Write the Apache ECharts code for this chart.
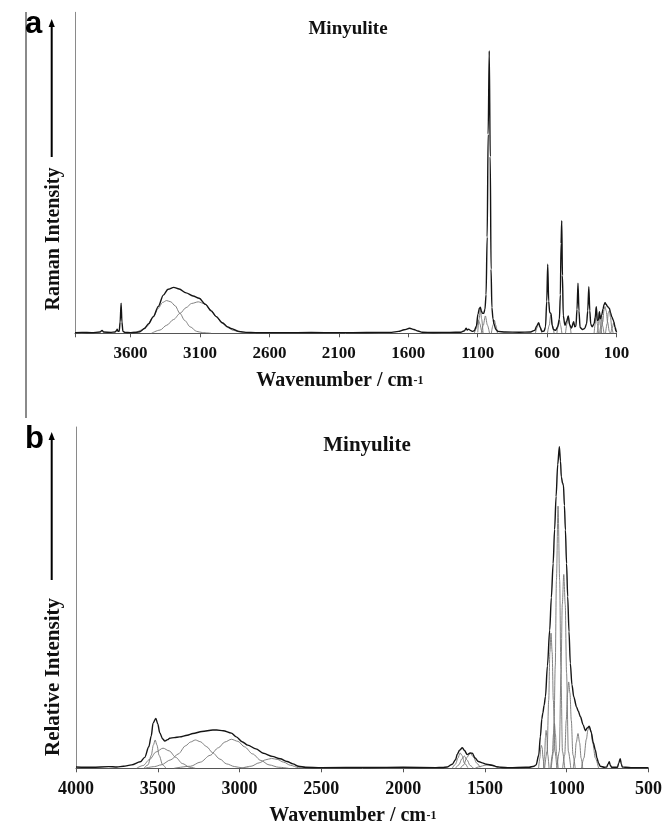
<!DOCTYPE html>
<html><head><meta charset="utf-8">
<script src="https://cdn.jsdelivr.net/npm/echarts@6/dist/echarts.min.js"></script>
<style>html,body{margin:0;padding:0;background:#fff}#c{width:665px;height:826px}</style>
</head><body><div id="c"></div>
<script>
// ---------- tick labels ----------
const ramanTicks = [3600, 3100, 2600, 2100, 1600, 1100, 600, 100];
const irTicks = [4000, 3500, 3000, 2500, 2000, 1500, 1000, 500];

// ---------- (a) Raman spectrum: envelope [wavenumber, intensity] ----------
const ramanEnvelope = [
 [4000,0.2],[3950,0.3],[3880,0.2],[3820,0.4],[3805,0.9],[3795,0.4],[3740,0.3],[3712,0.4],[3702,0.8],
 [3696,1.3],[3690,0.6],[3682,0.6],[3675,3.5],[3668,9.4],[3662,3.5],[3655,0.6],[3640,0.3],[3600,0.2],
 [3560,0.3],[3532,0.5],[3500,1.5],[3470,3.0],[3436,5.2],[3400,8.4],[3364,11.9],[3330,13.7],[3289,14.3],
 [3250,13.8],[3200,12.6],[3150,11.6],[3106,10.9],[3060,9.0],[3020,7.0],[2983,5.2],[2940,3.3],[2900,2.0],
 [2877,1.5],[2820,0.6],[2769,0.3],[2700,0.2],[2500,0.2],[2300,0.25],[2100,0.2],[1900,0.25],[1720,0.3],
 [1670,0.6],[1630,1.1],[1590,1.56],[1560,1.2],[1530,0.7],[1500,0.35],[1420,0.25],[1300,0.3],[1220,0.35],
 [1195,0.8],[1184,1.6],[1175,1.0],[1165,1.3],[1156,1.0],[1140,0.6],[1125,0.8],[1110,2.2],[1098,6.0],
 [1088,7.8],[1081,8.1],[1073,6.8],[1065,6.2],[1057,6.2],[1048,7.5],[1040,12],[1032,30],[1025,62],
 [1017,88],[1010,55],[1004,20],[998,8],[990,4.5],[982,2.8],[970,1.2],[955,0.6],[900,0.4],[800,0.35],
 [720,0.4],[690,0.9],[675,2.3],[661,3.3],[650,1.8],[638,0.6],[622,0.7],[612,2.0],[603,10],[596,21.5],
 [589,10],[582,6.5],[572,6.2],[564,2.5],[555,1.2],[540,0.9],[525,2.0],[512,4.4],[505,12],[500,28],
 [495,35.1],[490,18],[484,5.5],[472,2.5],[460,3.8],[448,5.4],[438,2.6],[425,1.6],[409,3.6],[401,2.0],
 [393,2.2],[385,7.5],[378,15.6],[371,7],[363,1.8],[345,1.2],[330,1.5],[316,3],[308,7],[300,14.5],
 [293,7],[286,2.8],[276,2.0],[262,3.0],[254,5],[246,8.3],[239,4.0],[230,4.2],[224,6.7],[217,4.5],
 [207,5.7],[198,7.5],[190,9.0],[183,9.5],[175,9.0],[166,8.4],[158,8.0],[152,7.8],[144,6.5],[135,5.2],
 [126,4.3],[120,3.6],[112,2.0],[105,0.8],[100,0.3]
];
// (a) fitted component bands
const ramanComp3340 = [[3620,0],[3560,0.4],[3520,1.0],[3484,2.1],[3436,5.1],[3400,7.8],[3370,9.6],[3340,10.2],[3310,9.8],[3280,8.6],[3244,6.2],[3210,4.0],[3170,2.0],[3124,0.6],[3080,0.2],[3020,0]];
const ramanComp3112 = [[3450,0],[3388,1.0],[3340,2.5],[3290,4.3],[3244,6.2],[3200,8.0],[3160,9.3],[3112,9.8],[3066,9.2],[3025,7.4],[2983,5.2],[2940,3.2],[2900,1.8],[2860,0.9],[2810,0.4],[2760,0.1],[2700,0]];
const ramanComp1096 = [[1125,0],[1110,1.5],[1096,4.1],[1085,3],[1072,0.8],[1060,0]];
const ramanComp1081 = [[1100,0.3],[1090,4.5],[1081,7.6],[1072,4.5],[1062,0.3]];
const ramanComp1045 = [[1075,0],[1060,2.5],[1045,5.4],[1030,2.5],[1015,0]];
const ramanComp980  = [[1002,0],[990,2.5],[980,4.1],[970,2.5],[958,0]];
const ramanComp661  = [[685,0],[672,1.8],[661,3.1],[650,1.8],[638,0]];
const ramanComp572  = [[598,0],[585,2.5],[574,5.8],[563,2.5],[550,0]];
const ramanComp512  = [[530,0],[520,2.5],[512,4.2],[504,2.5],[494,0]];
const ramanComp448  = [[468,0],[457,3],[448,5.2],[439,3],[428,0]];
const ramanComp246  = [[262,0],[254,3],[246,8.0],[239,3],[230,0]];
const ramanComp224  = [[240,0],[231,2.5],[224,6.4],[217,2.5],[208,0]];
const ramanComp207  = [[222,0],[214,2.2],[207,5.4],[200,2.2],[191,0]];
const ramanComp183  = [[215,0],[200,3.5],[190,7.5],[183,8.3],[175,7.0],[165,3.5],[152,0.5],[145,0]];
const ramanComp152  = [[180,0],[168,3],[160,6.4],[152,7.0],[144,5],[134,1.5],[125,0]];
const ramanComp120  = [[142,0],[132,1.6],[120,3.4],[110,2.0],[100,0.5]];

// ---------- (b) infrared spectrum: envelope ----------
const irEnvelope = [
 [4000,0.4],[3900,0.3],[3800,0.5],[3750,0.4],[3710,0.6],[3660,1.0],[3607,1.9],[3580,3.2],[3555,6.3],
 [3540,9.5],[3529,13.2],[3512,14.6],[3500,13.0],[3488,10.4],[3470,8.6],[3457,8.0],[3440,8.4],[3427,8.8],
 [3400,9.0],[3366,9.2],[3320,9.7],[3285,10.2],[3230,10.8],[3163,11.2],[3140,11.2],[3100,11.0],[3050,10.3],
 [3020,9.2],[2985,7.8],[2950,6.8],[2900,5.7],[2855,4.4],[2800,3.5],[2752,2.8],[2710,2.0],[2674,1.3],
 [2640,0.6],[2597,0.3],[2500,0.2],[2200,0.25],[2000,0.3],[1800,0.2],[1760,0.25],[1730,0.4],[1700,1.2],
 [1680,2.5],[1669,4.1],[1655,5.3],[1638,6.0],[1625,5.2],[1608,4.0],[1590,4.5],[1577,4.4],[1560,3.0],
 [1540,2.0],[1516,1.6],[1490,1.2],[1455,0.9],[1430,0.5],[1404,0.3],[1350,0.2],[1250,0.3],[1230,0.3],
 [1200,0.6],[1187,1.0],[1171,3.9],[1161,9.3],[1152,14.5],[1146,16.2],[1138,18.5],[1130,21],[1118,30],
 [1104,40.5],[1094,50],[1083,60],[1074,70],[1065,79.6],[1055,89],[1045,94.2],[1038,90],[1033,85.4],
 [1025,83.5],[1020,83],[1014,77],[1008,69.8],[1001,60],[994,50.3],[986,40],[978,30.8],[968,24.5],
 [957,21],[940,18],[930,16.8],[916,15.1],[900,12.8],[886,11],[875,11.8],[862,12.3],[850,10.5],[838,7.6],
 [825,5.4],[815,3],[805,1.5],[795,0.6],[770,0.3],[755,0.4],[748,1.2],[740,1.9],[733,0.8],[725,0.3],
 [690,0.3],[682,1.5],[673,2.8],[666,1.2],[660,0.4],[640,0.3],[600,0.2],[500,0.2]
];
// (b) fitted component bands
const irComp3516 = [[3585,0],[3560,1.0],[3540,3.8],[3527,6.8],[3516,8.3],[3505,6.8],[3492,3.8],[3470,1.0],[3450,0]];
const irComp3468 = [[3630,0],[3590,0.8],[3550,2.6],[3510,4.8],[3468,5.9],[3430,5.1],[3390,3.2],[3350,1.4],[3305,0.3],[3270,0]];
const irComp3270 = [[3580,0],[3520,0.5],[3480,1.0],[3420,2.5],[3375,4.2],[3330,6.6],[3300,7.7],[3270,8.3],[3240,7.8],[3200,6.3],[3166,4.6],[3120,2.7],[3080,1.3],[3030,0.5],[2980,0.1],[2940,0]];
const irComp3050 = [[3400,0],[3300,0.6],[3240,1.8],[3180,3.8],[3130,6.0],[3090,7.7],[3050,8.5],[3010,7.9],[2970,6.3],[2920,4.2],[2870,2.3],[2820,1.0],[2760,0.3],[2700,0]];
const irComp2804 = [[2990,0],[2930,0.6],[2880,1.6],[2840,2.5],[2804,2.9],[2770,2.6],[2730,1.8],[2690,0.9],[2640,0.2],[2600,0]];
const irComp1652 = [[1700,0],[1680,1.2],[1665,3],[1652,4.5],[1640,3.8],[1625,1.5],[1605,0.2]];
const irComp1626 = [[1680,0],[1660,1],[1640,2.8],[1626,3.6],[1610,2.5],[1590,0.8],[1570,0]];
const irComp1590 = [[1650,0],[1630,1],[1610,3.2],[1590,4.4],[1570,3.3],[1550,1.5],[1530,0.3]];
const irComp1480 = [[1560,0],[1530,0.5],[1500,0.9],[1480,1.0],[1450,0.7],[1420,0.2],[1400,0]];
const irComp1155 = [[1172,0],[1164,3],[1159,6],[1155,6.7],[1150,6],[1145,3],[1138,0]];
const irComp1126 = [[1142,0],[1135,4],[1130,9],[1126,11.1],[1121,9],[1116,4],[1108,0]];
const irComp1096 = [[1135,0],[1120,5],[1110,20],[1103,34],[1096,39.6],[1089,34],[1082,20],[1072,5],[1060,0]];
const irComp1075 = [[1098,0],[1088,4],[1081,10],[1075,13.1],[1069,10],[1062,4],[1052,0]];
const irComp1053 = [[1095,0],[1080,5],[1070,30],[1063,55],[1053,76.8],[1043,55],[1036,30],[1026,5],[1012,0]];
const irComp1018 = [[1060,0],[1045,5],[1035,28],[1027,48],[1018,56.8],[1009,48],[1001,28],[990,5],[975,0]];
const irComp988  = [[1025,0],[1012,4],[1003,14],[995,22],[988,25.3],[980,22],[972,14],[962,4],[948,0]];
const irComp931  = [[960,0],[950,3],[942,7.5],[931,10.2],[921,7.5],[912,3],[902,0]];
const irComp862  = [[910,0],[895,3],[880,8.5],[870,11.3],[862,12.1],[852,11],[840,7.2],[825,3],[805,0]];

const ramanComponents = [ramanComp3340, ramanComp3112, ramanComp1096, ramanComp1081, ramanComp1045,
  ramanComp980, ramanComp661, ramanComp572, ramanComp512, ramanComp448, ramanComp246, ramanComp224,
  ramanComp207, ramanComp183, ramanComp152, ramanComp120];
const irComponents = [irComp3516, irComp3468, irComp3270, irComp3050, irComp2804, irComp1652, irComp1626,
  irComp1590, irComp1480, irComp1155, irComp1126, irComp1096, irComp1075, irComp1053, irComp1018,
  irComp988, irComp931, irComp862];

// ---------- chart ----------
const SERIF = '"Liberation Serif", "Times New Roman", serif';
const chart = echarts.init(document.getElementById('c'), null, {renderer: 'canvas'});

function lineSeries(data, idx, color, width, z) {
  return {type: 'line', xAxisIndex: idx, yAxisIndex: idx, data: data, symbol: 'none', showSymbol: false,
    smooth: 0.3, smoothMonotone: 'x', lineStyle: {color: color, width: width}, z: z, silent: true};
}
const series = [];
ramanComponents.forEach(d => series.push(lineSeries(d, 0, '#747474', 0.9, 2)));
series.push(lineSeries(ramanEnvelope, 0, '#151515', 1.4, 3));
irComponents.forEach(d => series.push(lineSeries(d, 1, '#747474', 0.9, 2)));
series.push(lineSeries(irEnvelope, 1, '#151515', 1.4, 3));

function xAxisCfg(idx, min, max, ticks, fs, margin) {
  return {gridIndex: idx, type: 'value', min: min, max: max, interval: 500, inverse: true,
    axisLine: {show: true, onZero: false, lineStyle: {color: '#555', width: 1}},
    axisTick: {show: true, inside: false, length: 4, lineStyle: {color: '#555'}},
    splitLine: {show: false},
    axisLabel: {show: true, margin: margin, color: '#111', fontFamily: SERIF, fontWeight: 'bold', fontSize: fs,
      formatter: v => ticks.indexOf(v) >= 0 ? String(v) : ''}};
}
function yAxisCfg(idx) {
  return {gridIndex: idx, type: 'value', min: 0, max: 100,
    axisLine: {show: true, onZero: false, lineStyle: {color: '#8a8a8a', width: 1}},
    axisTick: {show: false}, axisLabel: {show: false}, splitLine: {show: false}};
}

const graphic = [
  {type: 'line', shape: {x1: 26, y1: 12, x2: 26, y2: 418}, style: {stroke: '#8a8a8a', lineWidth: 2}},
  {type: 'text', x: 25, y: 24, style: {text: 'a', fontFamily: '"Liberation Sans", Arial, sans-serif', fontWeight: 'bold', fontSize: 31, fill: '#000', align: 'left', verticalAlign: 'middle'}},
  {type: 'text', x: 25, y: 439, style: {text: 'b', fontFamily: '"Liberation Sans", Arial, sans-serif', fontWeight: 'bold', fontSize: 31, fill: '#000', align: 'left', verticalAlign: 'middle'}},
  // arrows
  {type: 'line', shape: {x1: 51.7, y1: 157, x2: 51.7, y2: 25}, style: {stroke: '#000', lineWidth: 2}},
  {type: 'polygon', shape: {points: [[51.7, 19], [48.6, 27], [54.8, 27]]}, style: {fill: '#000'}},
  {type: 'line', shape: {x1: 51.7, y1: 580, x2: 51.7, y2: 438}, style: {stroke: '#000', lineWidth: 2}},
  {type: 'polygon', shape: {points: [[51.7, 432], [48.6, 440], [54.8, 440]]}, style: {fill: '#000'}},
  // rotated y labels
  {type: 'text', x: 54, y: 239, rotation: Math.PI / 2, style: {text: 'Raman Intensity', fontFamily: SERIF, fontWeight: 'bold', fontSize: 20, fill: '#111', align: 'center', verticalAlign: 'middle'}},
  {type: 'text', x: 54, y: 677, rotation: Math.PI / 2, style: {text: 'Relative Intensity', fontFamily: SERIF, fontWeight: 'bold', fontSize: 21, fill: '#111', align: 'center', verticalAlign: 'middle'}},
  // titles
  {type: 'text', x: 348, y: 29, style: {text: 'Minyulite', fontFamily: SERIF, fontWeight: 'bold', fontSize: 19, fill: '#111', align: 'center', verticalAlign: 'middle'}},
  {type: 'text', x: 367, y: 446, style: {text: 'Minyulite', fontFamily: SERIF, fontWeight: 'bold', fontSize: 21, fill: '#111', align: 'center', verticalAlign: 'middle'}},
  // x-axis titles
  {type: 'text', x: 413, y: 381, style: {text: 'Wavenumber / cm', fontFamily: SERIF, fontWeight: 'bold', fontSize: 20, fill: '#111', align: 'right', verticalAlign: 'middle'}},
  {type: 'text', x: 413.5, y: 380.5, style: {text: '-1', fontFamily: SERIF, fontWeight: 'bold', fontSize: 12, fill: '#111', align: 'left', verticalAlign: 'middle'}},
  {type: 'text', x: 426, y: 816, style: {text: 'Wavenumber / cm', fontFamily: SERIF, fontWeight: 'bold', fontSize: 20, fill: '#111', align: 'right', verticalAlign: 'middle'}},
  {type: 'text', x: 426.5, y: 815.5, style: {text: '-1', fontFamily: SERIF, fontWeight: 'bold', fontSize: 12, fill: '#111', align: 'left', verticalAlign: 'middle'}}
];

chart.setOption({
  animation: false,
  backgroundColor: '#fff',
  grid: [
    {left: 75, right: 48.4, top: 12.3, height: 321, containLabel: false},
    {left: 76, right: 15, top: 427, height: 341.3, containLabel: false}
  ],
  xAxis: [xAxisCfg(0, 100, 4000, ramanTicks, 17, 12), xAxisCfg(1, 500, 4000, irTicks, 18, 12)],
  yAxis: [yAxisCfg(0), yAxisCfg(1)],
  series: series,
  graphic: graphic
});
</script></body></html>
